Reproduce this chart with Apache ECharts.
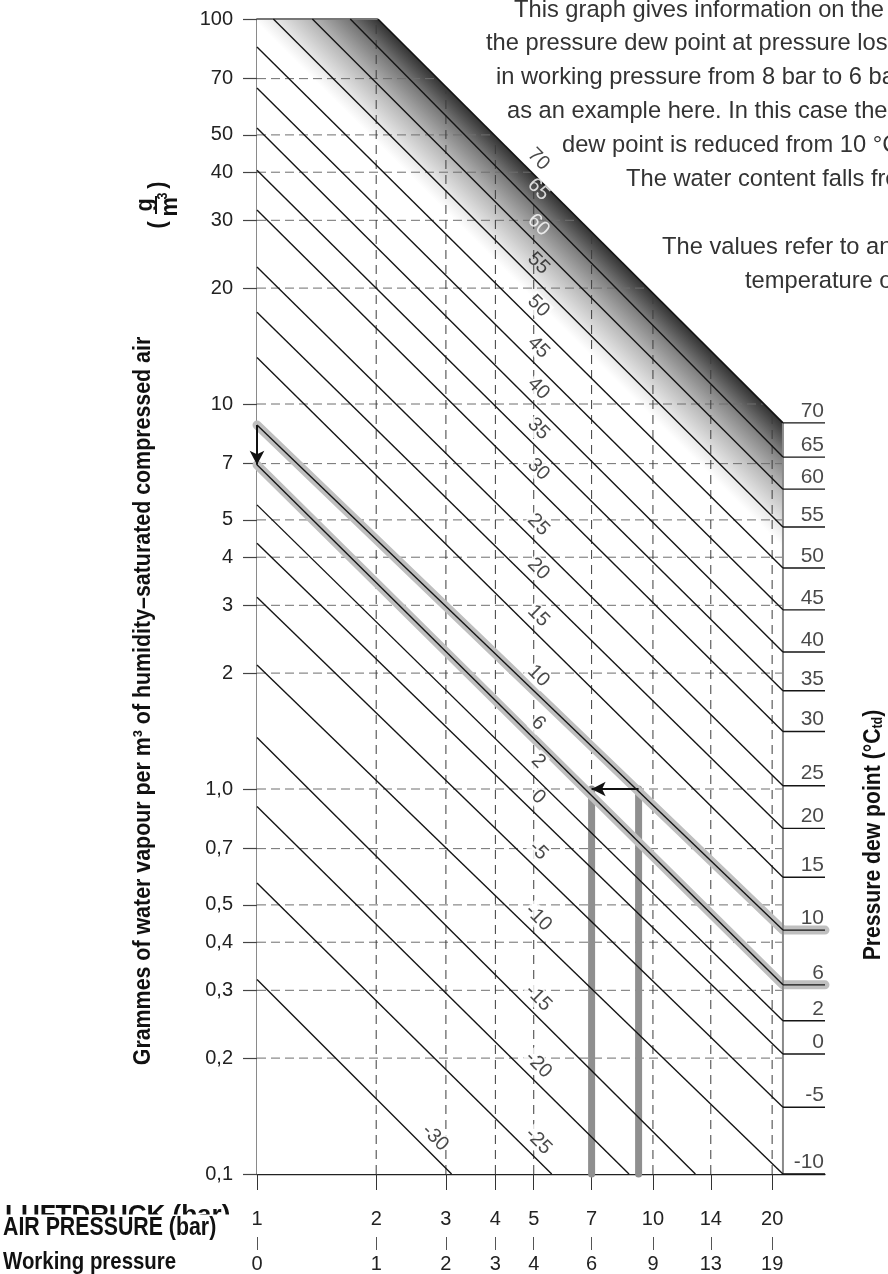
<!DOCTYPE html>
<html><head><meta charset="utf-8">
<script src="https://cdn.jsdelivr.net/npm/echarts@6/dist/echarts.min.js"></script>
<style>html,body{margin:0;padding:0;background:#fff}#c{width:888px;height:1274px}</style>
</head><body><div id="c"></div>
<script>
// ---------------- data ----------------
const dewPoints  = [70, 65, 60, 55, 50, 45, 40, 35, 30, 25, 20, 15, 10, 6, 2, 0, -5, -10, -15, -20, -25, -30];
// where each constant-dew-point line enters the chart (absolute pressure, g/m3)
const lineStartP = [2.02, 1.72, 1.38, 1.10, 1, 1, 1, 1, 1, 1, 1, 1, 1, 1, 1, 1, 1, 1, 1, 1, 1, 1];
const lineStartV = [100, 100, 100, 100, 84.6, 66.2, 52.1, 40.5, 31.9, 22.7, 17.3, 13.2, 8.82, 6.95, 5.47, 4.35, 3.15, 2.10, 1.36, 0.90, 0.57, 0.32];
// where each line leaves the chart
const lineEndP   = [21.3, 21.3, 21.3, 21.3, 21.3, 21.3, 21.3, 21.3, 21.3, 21.3, 21.3, 21.3, 21.3, 21.3, 21.3, 21.3, 21.3, 21.3, 12.8, 8.7, 5.55, 3.1];
const lineEndV   = [8.93, 7.28, 6.01, 4.79, 3.75, 2.92, 2.27, 1.80, 1.41, 1.02, 0.79, 0.59, 0.43, 0.31, 0.25, 0.205, 0.149, 0.10, 0.1, 0.1, 0.1, 0.1];
// pressure at which each line carries its rotated label
const labelP     = [4.85, 4.85, 4.85, 4.85, 4.85, 4.85, 4.85, 4.85, 4.85, 4.85, 4.85, 4.85, 4.85, 4.85, 4.85, 4.85, 4.85, 4.85, 4.85, 4.85, 4.85, 2.66];
const rightLabelCount = 18;               // 70 ... -10 carry a label at the right edge
const highlighted = [10, 6];              // dew points of the worked example
const examplePressures = [9.2, 7];        // absolute pressure before / after (8 bar -> 6 bar gauge)
const exampleWater = 1.0;                 // g/m3 at which the example is read

const xTicks       = [1, 2, 3, 4, 5, 7, 10, 14, 20];
const xTickLabels  = ['1', '2', '3', '4', '5', '7', '10', '14', '20'];
const gaugeLabels  = ['0', '1', '2', '3', '4', '6', '9', '13', '19'];
const yTicks       = [0.1, 0.2, 0.3, 0.4, 0.5, 0.7, 1, 2, 3, 4, 5, 7, 10, 20, 30, 40, 50, 70, 100];
const yTickLabels  = ['0,1', '0,2', '0,3', '0,4', '0,5', '0,7', '1,0', '2', '3', '4', '5', '7', '10', '20', '30', '40', '50', '70', '100'];
const xGrid = [2, 3, 4, 5, 7, 10, 14, 20];
const yGrid = [0.2, 0.3, 0.4, 0.5, 0.7, 1, 2, 3, 4, 5, 7, 10, 20, 30, 40, 50, 70];

const textLines = [
  'This graph gives information on the change of the',
  'the pressure dew point at pressure loss. A drop',
  'in working pressure from 8 bar to 6 bar is shown',
  'as an example here. In this case the pressure',
  'dew point is reduced from 10 °C to 6 °C.',
  'The water content falls from 9.4 to 7.3 g/m³.',
  '',
  'The values refer to an ambient',
  'temperature of 20 °C.'
];
const textLineX = [514, 486, 496, 507, 562, 626, 0, 662, 745];

// ---------------- layout constants ----------------
const X_MIN = 1, X_MAX = 27.2, Y_MIN = 0.1, Y_MAX = 100;
const NUM_FONT = '"Liberation Sans", Arial, Helvetica, sans-serif';
const BOLD = '"Liberation Sans", Arial, sans-serif';

const L = Math.log10;
function lineValueAt(i, p) {
  const t = (L(p) - L(lineStartP[i])) / (L(lineEndP[i]) - L(lineStartP[i]));
  return Math.pow(10, L(lineStartV[i]) + t * (L(lineEndV[i]) - L(lineStartV[i])));
}
// boundary (70 °C line) for clipping the dashed grid
const bSlope = (L(lineEndV[0]) - L(lineStartV[0])) / (L(lineEndP[0]) - L(lineStartP[0]));
function hEnd(v) {
  const p = Math.pow(10, L(lineStartP[0]) + (L(v) - L(lineStartV[0])) / bSlope);
  return Math.min(lineEndP[0], Math.max(X_MIN, p));
}
function vEnd(p) {
  if (p <= lineStartP[0]) return Y_MAX;
  return Math.min(Y_MAX, Math.pow(10, L(lineStartV[0]) + bSlope * (L(p) - L(lineStartP[0]))));
}
function lookup(v, ticks, labels) {
  let best = 0;
  ticks.forEach((t, i) => { if (Math.abs(L(t) - L(v)) < Math.abs(L(ticks[best]) - L(v))) best = i; });
  return labels[best];
}
function seg(data, style, z, extra) {
  return Object.assign({
    type: 'line', data: data, symbol: 'none', showSymbol: false, silent: true,
    animation: false, z: z, lineStyle: style, emphasis: { disabled: true }
  }, extra || {});
}

const series = [];
// gradient band below the 70 °C line
series.push({
  type: 'custom', coordinateSystem: 'cartesian2d', z: 1, silent: true, animation: false,
  data: [[2, 2]],
  renderItem: function (params, api) {
    const a = api.coord([lineStartP[0], lineStartV[0]]);
    const b = api.coord([lineEndP[0], lineEndV[0]]);
    const pts = [[X_MIN, Y_MAX], [lineStartP[0], lineStartV[0]], [lineEndP[0], lineEndV[0]], [lineEndP[0], Y_MIN], [X_MIN, Y_MIN]].map(q => api.coord(q));
    let dx = b[0] - a[0], dy = b[1] - a[1];
    const len = Math.hypot(dx, dy); dx /= len; dy /= len;
    const nx = -dy, ny = dx, W = 88;
    return {
      type: 'polygon', shape: { points: pts },
      style: {
        fill: new echarts.graphic.LinearGradient(a[0], a[1], a[0] + nx * W, a[1] + ny * W, [
          { offset: 0, color: '#333333' }, { offset: 0.25, color: '#7a7a7a' },
          { offset: 0.55, color: '#b8b8b8' }, { offset: 0.85, color: '#eaeaea' },
          { offset: 1, color: '#ffffff' }], true)
      }
    };
  }
});
// dashed grid
yGrid.forEach(v => series.push(seg([[X_MIN, v], [hEnd(v), v]], { color: '#6e6e6e', width: 1, type: [9, 5] }, 2)));
xGrid.forEach(p => series.push(seg([[p, Y_MIN], [p, vEnd(p)]], { color: '#3c3c3c', width: 1, type: [9, 6] }, 2)));
// top border and right border
series.push(seg([[X_MIN, Y_MAX], [lineStartP[0], Y_MAX]], { color: '#777', width: 2 }, 4, { clip: false }));
series.push(seg([[lineEndP[0], lineEndV[0]], [lineEndP[0], Y_MIN]], { color: '#8a8a8a', width: 2 }, 4, { clip: false }));
// example: thick grey verticals
examplePressures.forEach(p => series.push(seg([[p, exampleWater], [p, Y_MIN]], { color: '#8f8f8f', width: 7, cap: 'round' }, 3, { clip: false })));
// halos of highlighted lines
dewPoints.forEach((d, i) => {
  if (highlighted.indexOf(d) < 0) return;
  series.push(seg([[lineStartP[i], lineStartV[i]], [lineEndP[i], lineEndV[i]], [X_MAX, lineEndV[i]]],
    { color: '#bfbfbf', width: 9, cap: 'round', join: 'round' }, 3, { clip: false }));
});
// dew point lines + right ticks
dewPoints.forEach((d, i) => {
  series.push(seg([[lineStartP[i], lineStartV[i]], [lineEndP[i], lineEndV[i]]], { color: '#151515', width: i === 0 ? 1.7 : 1.4 }, 5));
  if (i < rightLabelCount)
    series.push(seg([[lineEndP[i], lineEndV[i]], [X_MAX, lineEndV[i]]], { color: '#151515', width: 1.4 }, 5, { clip: false }));
});
// right labels
series.push({
  type: 'scatter', z: 6, silent: true, animation: false, clip: false, symbolSize: 0,
  itemStyle: { color: 'rgba(0,0,0,0)' },
  data: dewPoints.slice(0, rightLabelCount).map((d, i) => ({ value: [X_MAX, lineEndV[i]], name: String(d) })),
  label: { show: true, position: 'left', distance: 1, offset: [0, -12], formatter: p => p.name,
           fontSize: 21, color: '#1a1a1a', fontFamily: NUM_FONT }
});
// rotated labels along the lines (white knock-out where they sit on white paper)
series.push({
  type: 'scatter', z: 6, silent: true, animation: false, clip: false, symbolSize: 0,
  itemStyle: { color: 'rgba(0,0,0,0)' },
  data: dewPoints.map((d, i) => {
    const inShade = (d === 65 || d === 60 || d === 55);
    return {
      value: [labelP[i], lineValueAt(i, labelP[i])], name: String(d),
      label: inShade
        ? { color: (d === 55 ? '#1a1a1a' : '#ffffff'), backgroundColor: 'transparent' }
        : { color: '#1a1a1a', backgroundColor: '#ffffff' }
    };
  }),
  label: { show: true, position: 'inside', offset: [0, -14], rotate: -45, formatter: p => p.name,
           fontSize: 20, fontFamily: NUM_FONT, padding: [0, 1] }
});
// arrows
series.push({
  type: 'line', data: [], silent: true, animation: false, z: 7,
  markLine: {
    silent: true, animation: false, symbol: ['none', 'arrow'], symbolSize: [11, 14],
    label: { show: false }, lineStyle: { color: '#111', width: 2, type: 'solid' },
    emphasis: { disabled: true },
    data: [
      [{ coord: [examplePressures[0], exampleWater] }, { coord: [examplePressures[1], exampleWater] }],
      [{ coord: [X_MIN, lineStartV[dewPoints.indexOf(highlighted[0])]] }, { coord: [X_MIN, lineStartV[dewPoints.indexOf(highlighted[1])]] }]
    ]
  }
});

const graphics = [];
textLines.forEach((t, i) => {
  if (!t) return;
  graphics.push({ type: 'text', x: textLineX[i], y: 10 + 33.9 * i, z: 10,
    style: { text: t, font: '23.7px ' + NUM_FONT, fill: '#333', align: 'left', verticalAlign: 'middle' } });
});
// ghost German label partly hidden behind the English one
graphics.push({ type: 'text', x: 5, y: 1216, z: 10,
  style: { text: 'LUFTDRUCK (bar)', font: 'bold 26px ' + BOLD, fill: '#111', align: 'left', verticalAlign: 'middle' } });
graphics.push({ type: 'rect', x: 0, y: 1214.5, z: 11, shape: { width: 240, height: 40 }, style: { fill: '#fff' } });
graphics.push({ type: 'text', x: 3, y: 1228, z: 12, scaleX: 0.82,
  style: { text: 'AIR PRESSURE (bar)', font: 'bold 26px ' + BOLD, fill: '#111', align: 'left', verticalAlign: 'middle' } });
graphics.push({ type: 'text', x: 3, y: 1262, z: 12, scaleX: 0.85,
  style: { text: 'Working pressure', font: 'bold 24px ' + BOLD, fill: '#111', align: 'left', verticalAlign: 'middle' } });
graphics.push({ type: 'text', x: 144, y: 701, rotation: Math.PI / 2, scaleX: 0.91, z: 12,
  style: { text: 'Grammes of water vapour per m³ of humidity–saturated compressed air', font: 'bold 23.5px ' + BOLD,
           fill: '#111', align: 'center', verticalAlign: 'middle' } });
graphics.push({ type: 'text', x: 874, y: 835, rotation: Math.PI / 2, scaleX: 0.9, z: 12,
  style: { text: 'Pressure dew point (°C{s|td})', font: 'bold 23.5px ' + BOLD, fill: '#111',
           align: 'center', verticalAlign: 'middle',
           rich: { s: { font: 'bold 14px ' + BOLD, fill: '#111', padding: [8, 0, 0, 0] } } } });
// g / m3 unit
graphics.push({ type: 'group', x: 158, y: 205, rotation: Math.PI / 2, scaleX: 0.9, z: 12, children: [
  { type: 'text', x: -22, y: 0, style: { text: '(', font: 'bold 24px ' + BOLD, fill: '#111', align: 'center', verticalAlign: 'middle' } },
  { type: 'text', x: 22, y: 0, style: { text: ')', font: 'bold 24px ' + BOLD, fill: '#111', align: 'center', verticalAlign: 'middle' } },
  { type: 'text', x: 0, y: -13, style: { text: 'g', font: 'bold 24px ' + BOLD, fill: '#111', align: 'center', verticalAlign: 'middle' } },
  { type: 'line', shape: { x1: -10, y1: -2, x2: 10, y2: -2 }, style: { stroke: '#111', lineWidth: 2 } },
  { type: 'text', x: -2, y: 12, style: { text: 'm', font: 'bold 24px ' + BOLD, fill: '#111', align: 'center', verticalAlign: 'middle' } },
  { type: 'text', x: 10, y: 5, style: { text: '3', font: 'bold 14px ' + BOLD, fill: '#111', align: 'center', verticalAlign: 'middle' } }
]});

const option = {
  animation: false,
  backgroundColor: '#ffffff',
  grid: { left: 257, top: 19, width: 568, height: 1155, containLabel: false, outerBoundsMode: 'none' },
  xAxis: [{
    type: 'log', logBase: 10, min: X_MIN, max: X_MAX, position: 'bottom',
    axisLine: { show: true, lineStyle: { color: '#222', width: 1.3 } },
    axisTick: { show: true, customValues: xTicks, length: 16, lineStyle: { color: '#333', width: 1 } },
    axisLabel: { show: true, customValues: xTicks, margin: 35, fontSize: 20, color: '#222', fontFamily: NUM_FONT,
                 showMinLabel: true, showMaxLabel: true, hideOverlap: false,
                 formatter: v => lookup(v, xTicks, xTickLabels) },
    splitLine: { show: false }, minorTick: { show: false }, minorSplitLine: { show: false }
  }, {
    type: 'log', logBase: 10, min: X_MIN, max: X_MAX, position: 'bottom', offset: 63,
    axisLine: { show: false },
    axisTick: { show: true, customValues: xTicks, length: 13, lineStyle: { color: '#555', width: 1 } },
    axisLabel: { show: true, customValues: xTicks, margin: 17, fontSize: 20, color: '#222', fontFamily: NUM_FONT,
                 showMinLabel: true, showMaxLabel: true, hideOverlap: false,
                 formatter: v => lookup(v, xTicks, gaugeLabels) },
    splitLine: { show: false }
  }],
  yAxis: {
    type: 'log', logBase: 10, min: Y_MIN, max: Y_MAX,
    axisLine: { show: true, lineStyle: { color: '#8a8a8a', width: 2 } },
    axisTick: { show: true, customValues: yTicks, length: 14, lineStyle: { color: '#444', width: 1.2 } },
    axisLabel: { show: true, customValues: yTicks, margin: 24, fontSize: 20, color: '#222', fontFamily: NUM_FONT,
                 showMinLabel: true, showMaxLabel: true, hideOverlap: false,
                 formatter: v => lookup(v, yTicks, yTickLabels) },
    splitLine: { show: false }, minorTick: { show: false }
  },
  series: series,
  graphic: graphics
};
const chart = echarts.init(document.getElementById('c'));
chart.setOption(option);
</script></body></html>
